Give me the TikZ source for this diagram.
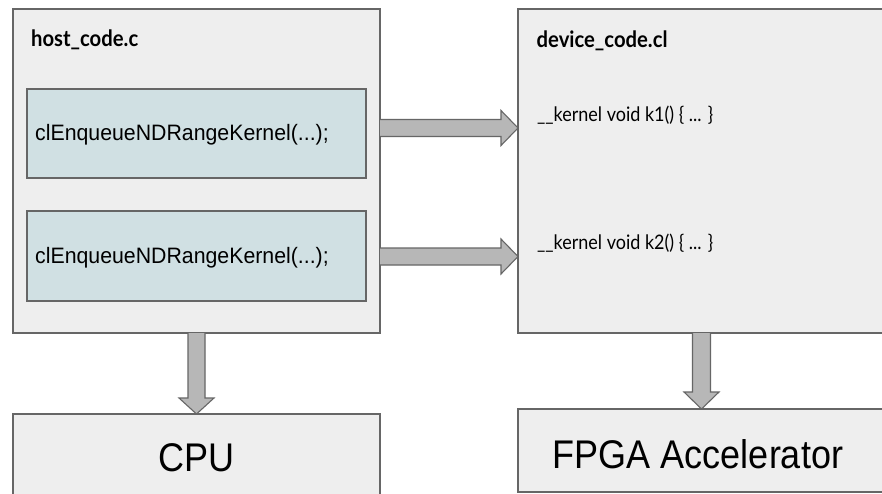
\documentclass[tikz,border=0pt]{standalone}
\usepackage{fontspec}
\setmainfont{Liberation Sans}
\newfontfamily\lato{Lato}
\usetikzlibrary{calc}
\definecolor{boxfill}{HTML}{EEEEEE}
\definecolor{boxline}{HTML}{666666}
\definecolor{callfill}{HTML}{D0E0E3}
\definecolor{arrowfill}{HTML}{B7B7B7}
\tikzset{
  x=1pt,y=-1pt,
  panel/.style={draw=boxline,fill=boxfill,line width=1.2pt},
  callbox/.style={draw=boxline,fill=callfill,line width=1.2pt},
  fatarrow/.style={draw=boxline,fill=arrowfill,line width=1.1pt,line join=miter},
  title/.style={font=\lato\bfseries\fontsize{22.5}{26}\selectfont,anchor=west,inner sep=0pt,xscale=0.9},
  kern/.style={font=\lato\fontsize{20}{24}\selectfont,anchor=west,inner sep=0pt,xscale=0.9},
  calltxt/.style={font=\fontsize{22.3}{26}\selectfont,anchor=west,inner sep=0pt,xscale=0.955},
  bigtxt/.style={font=\fontsize{40}{44}\selectfont,inner sep=0pt,xscale=0.9},
}
\begin{document}
\begin{tikzpicture}
\useasboundingbox[fill=white] (0,0) rectangle (882,494);
% panels
\draw[panel] (13,9) rectangle (380,333);
\coordinate (hostS) at (196.5,333);
\draw[panel] (518,9) rectangle (890,333);
\coordinate (devS) at (701.5,333);
\draw[panel] (13,414) rectangle (380,500);
\draw[panel] (518,409) rectangle (890,492);
\coordinate (cpuN) at (196.5,414);
\coordinate (fpgaN) at (701.5,409);
% call boxes
\draw[callbox] (27,89) rectangle (366,178);
\draw[callbox] (27,211) rectangle (366,301);
% texts
\node[title] (host) at (31,40) {host\_code.c};
\node[title] (dev) at (536.5,41) {device\_code.cl};
\node[calltxt] (c1) at (35,135) {clEnqueueNDRangeKernel(...);};
\node[calltxt] (c2) at (35,258) {clEnqueueNDRangeKernel(...);};
\node[kern] (k1) at (537,115) {\_\_kernel void k1() \{ ... \}};
\node[kern] (k2) at (537,243) {\_\_kernel void k2() \{ ... \}};
\node[bigtxt] (cpu) at (196.5,458) {CPU};
\node[bigtxt] (fpga) at (698,454) {FPGA Accelerator};
% horizontal arrows
\coordinate (a1s) at (380,128);
\coordinate (a1e) at (518,128);
\coordinate (a2s) at (380,256.5);
\coordinate (a2e) at (518,256.5);
\foreach \s/\e in {a1s/a1e,a2s/a2e}{
  \draw[fatarrow] ($(\s)+(0,-8.5)$) -- ($(\e)+(-17,-8.5)$) -- ($(\e)+(-17,-17.5)$) -- (\e)
    -- ($(\e)+(-17,17.5)$) -- ($(\e)+(-17,8.5)$) -- ($(\s)+(0,8.5)$);
}
% vertical arrows
\draw[fatarrow] ($(hostS)+(-8.5,0)$) -- ($(cpuN)+(-8.5,-16)$) -- ($(cpuN)+(-17.5,-16)$) -- (cpuN)
  -- ($(cpuN)+(17.5,-16)$) -- ($(cpuN)+(8.5,-16)$) -- ($(hostS)+(8.5,0)$);
\draw[fatarrow] ($(devS)+(-9,0)$) -- ($(fpgaN)+(-9,-17)$) -- ($(fpgaN)+(-17.5,-17)$) -- (fpgaN)
  -- ($(fpgaN)+(17.5,-17)$) -- ($(fpgaN)+(9,-17)$) -- ($(devS)+(9,0)$);
\end{tikzpicture}
\end{document}
